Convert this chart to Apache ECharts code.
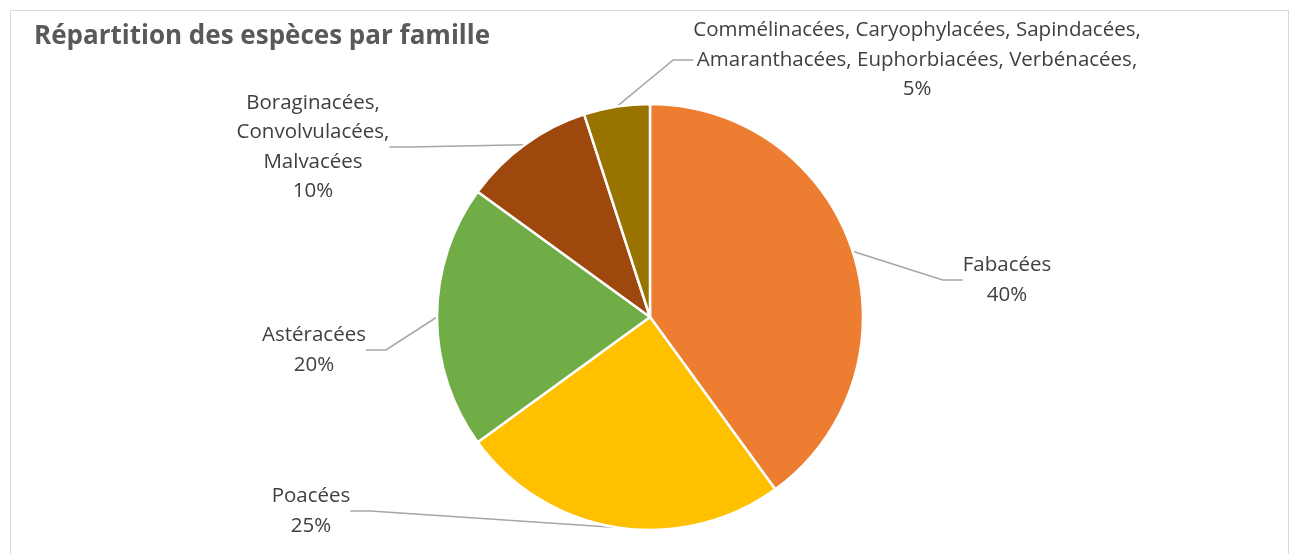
<!DOCTYPE html>
<html>
<head>
<meta charset="utf-8">
<script src="https://cdn.jsdelivr.net/npm/echarts@6/dist/echarts.min.js"></script>
<style>
html,body{margin:0;padding:0;background:#fff;}
#frame{position:absolute;left:10px;top:10px;width:1279px;height:560px;border:1px solid #d9d9d9;box-sizing:border-box;}
#chart{position:absolute;left:0;top:0;width:1294px;height:554px;}
</style>
</head>
<body>
<div id="frame"></div>
<div id="chart"></div>
<script>
const title = 'Répartition des espèces par famille';
const categories = ['Fabacées', 'Poacées', 'Astéracées', 'Boraginacées, Convolvulacées, Malvacées', 'Commélinacées, Caryophylacées, Sapindacées, Amaranthacées, Euphorbiacées, Verbénacées,'];
const labelTexts = ['Fabacées', 'Poacées', 'Astéracées', 'Boraginacées,\nConvolvulacées,\nMalvacées', 'Commélinacées, Caryophylacées, Sapindacées,\nAmaranthacées, Euphorbiacées, Verbénacées,'];
const values = [40, 25, 20, 10, 5];
const colors = ['#ED7D31', '#FFC000', '#70AD47', '#9E480E', '#997300'];

const labelPos = [[1007, 280], [311, 511], [314, 350], [313, 147], [917, 60]];

const chart = echarts.init(document.getElementById('chart'), null, {renderer: 'canvas'});
chart.setOption({
  animation: false,
  title: {
    text: title, left: 29, top: 19,
    textStyle: {fontFamily: 'Open Sans', fontWeight: 'bold', fontSize: 26, color: '#595959'}
  },
  series: [{
    type: 'pie',
    center: [650, 317],
    radius: 213,
    startAngle: 90,
    clockwise: true,
    data: categories.map((c, i) => ({name: c, value: values[i], itemStyle: {color: colors[i]}})),
    itemStyle: {borderColor: '#fff', borderWidth: 2.5},
    label: {
      show: true,
      formatter: p => labelTexts[p.dataIndex] + '\n' + Math.round(p.percent) + '%',
      fontFamily: 'Open Sans', fontSize: 20.5, color: '#404040', lineHeight: 29.5, align: 'center'
    },
    labelLine: {show: true, length: 20, length2: 20, lineStyle: {color: '#a6a6a6', width: 1.5}},
    labelLayout: p => ({x: labelPos[p.dataIndex][0], y: labelPos[p.dataIndex][1], align: 'center', verticalAlign: 'middle'}),
    emphasis: {disabled: true}
  }]
});
</script>
</body>
</html>
